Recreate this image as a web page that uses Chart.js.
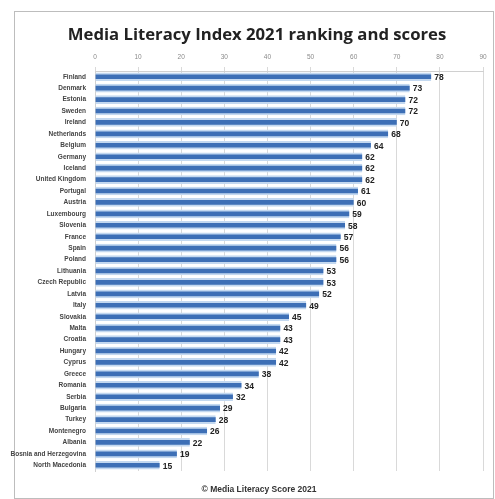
<!DOCTYPE html>
<html>
<head>
<meta charset="utf-8">
<script src="https://cdn.jsdelivr.net/npm/chart.js@4.4.1/dist/chart.umd.min.js"></script>
<style>
  body { margin: 0; background: #fff; }
  #frame { position: absolute; left: 14px; top: 11px; width: 480px; height: 488px; border: 1px solid #bdbdbd; box-sizing: border-box; }
  #chart { position: absolute; left: 0; top: 0; }
</style>
</head>
<body>
<div id="frame"></div>
<canvas id="chart" width="495" height="499"></canvas>
<script>
// Media Literacy Index 2021
const countries = ["Finland", "Denmark", "Estonia", "Sweden", "Ireland", "Netherlands", "Belgium", "Germany",
    "Iceland", "United Kingdom", "Portugal", "Austria", "Luxembourg", "Slovenia", "France", "Spain", "Poland",
    "Lithuania", "Czech Republic", "Latvia", "Italy", "Slovakia", "Malta", "Croatia", "Hungary", "Cyprus",
    "Greece", "Romania", "Serbia", "Bulgaria", "Turkey", "Montenegro", "Albania", "Bosnia and Herzegovina",
    "North Macedonia"];
const scores = [78, 73, 72, 72, 70, 68, 64, 62, 62, 62, 61, 60, 59, 58, 57, 56, 56, 53, 53, 52, 49, 45, 43, 43,
    42, 42, 38, 34, 32, 29, 28, 26, 22, 19, 15];
const axisMin = 0;
const axisMax = 90;
const axisStep = 10;
const titleText = 'Media Literacy Index 2021 ranking and scores';
const footerText = '© Media Literacy Score 2021';

// value labels at the end of each bar
const valueLabels = {
    id: 'valueLabels',
    afterDatasetsDraw(chart) {
        const ctx = chart.ctx;
        const meta = chart.getDatasetMeta(0);
        ctx.save();
        ctx.font = 'bold 8.5px "Liberation Sans"';
        ctx.fillStyle = '#222';
        ctx.textBaseline = 'middle';
        meta.data.forEach((bar, i) => {
            ctx.fillText(scores[i], bar.x + 3, bar.y + 1);
        });
        ctx.restore();
    }
};

// title and footer, centred on the frame rather than the canvas
const headerFooter = {
    id: 'headerFooter',
    afterDraw(chart) {
        const ctx = chart.ctx;
        ctx.save();
        ctx.textAlign = 'center';
        ctx.textBaseline = 'middle';
        ctx.fillStyle = '#222';
        ctx.font = 'bold 16.7px "Open Sans"';
        ctx.fillText(titleText, 257, 35);
        ctx.fillStyle = '#333';
        ctx.font = 'bold 8.5px "Liberation Sans"';
        ctx.fillText(footerText, 259, 490);
        ctx.restore();
    }
};

const ctx = document.getElementById('chart').getContext('2d');
new Chart(ctx, {
    type: 'bar',
    data: {
        labels: countries,
        datasets: [{
            data: scores,
            backgroundColor: '#3d6fb6',
            borderColor: '#c3d8f0',
            borderWidth: { top: 2, bottom: 2, left: 0, right: 0 },
            borderSkipped: false,
            barThickness: 8
        }]
    },
    options: {
        indexAxis: 'y',
        responsive: false,
        animation: false,
        layout: { padding: { left: 0, right: 12, top: 47, bottom: 28 } },
        scales: {
            x: {
                position: 'top',
                min: axisMin,
                max: axisMax,
                ticks: { stepSize: axisStep, color: '#8a8a8a', font: { size: 6.5, family: 'Liberation Sans' }, padding: 6 },
                grid: { color: '#d9d9d9', tickLength: 4 },
                border: { color: '#d0d0d0' },
                afterFit: s => { s.height = 24; }
            },
            y: {
                ticks: { color: '#444', font: { size: 6.5, weight: 'bold', family: 'Liberation Sans' }, padding: 1, autoSkip: false },
                grid: { display: false },
                border: { color: '#d0d0d0' },
                afterFit: s => { s.width = 95; }
            }
        },
        plugins: {
            legend: { display: false },
            tooltip: { enabled: false }
        }
    },
    plugins: [valueLabels, headerFooter]
});
</script>
</body>
</html>
